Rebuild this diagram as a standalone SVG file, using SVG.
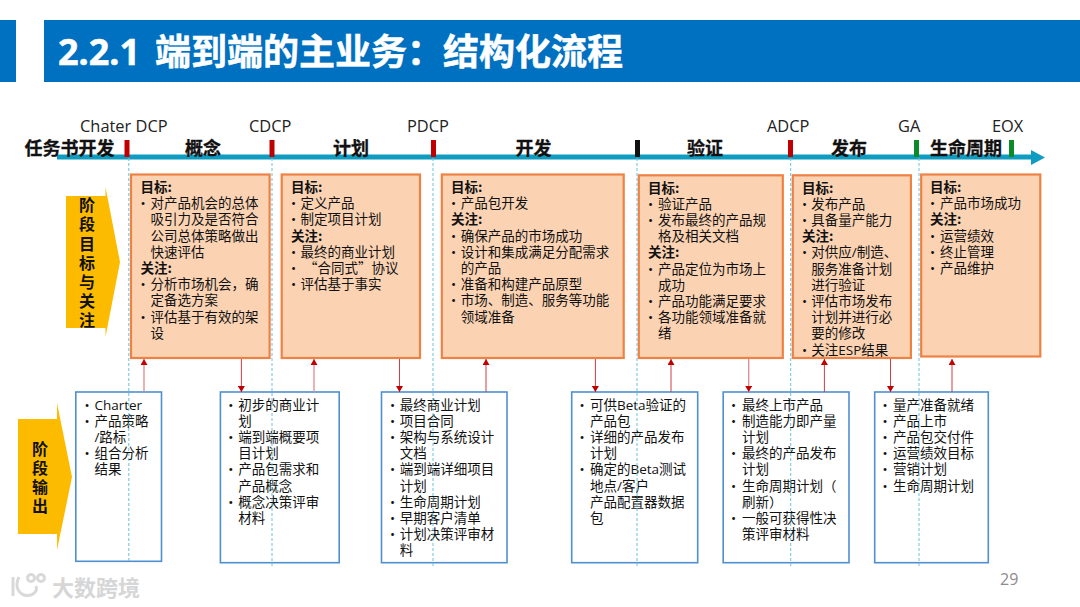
<svg xmlns="http://www.w3.org/2000/svg" width="1080" height="607" viewBox="0 0 1080 607">
<style>
text{font-family:"Open Sans","Noto Sans CJK SC",sans-serif;fill:#111}
.t{font-size:13.5px}
.h{font-size:13.5px;font-weight:700;font-family:"Noto Sans CJK SC",sans-serif}
.m{font-size:16.400px;fill:#222}
.p{font-size:18px;font-weight:700;font-family:"Noto Sans CJK SC",sans-serif;text-anchor:middle;stroke:#111;stroke-width:.3}
.v{font-size:16px;font-weight:700;font-family:"Noto Sans CJK SC",sans-serif;text-anchor:middle}
.o{fill:#fbd3b3;stroke:#ee8144;stroke-width:2.2}
.b{fill:none;stroke:#4f8fd0;stroke-width:1.6}
.d{stroke:#6cc0d8;stroke-width:1;stroke-dasharray:3 2;fill:none}
.c{stroke:#c8404a;stroke-width:1;fill:none}
.c2{stroke:#dd8a90;stroke-width:1.3;fill:none}
.ar{fill:#fdbb00}
.wm{fill:none;stroke:#d9d9d9;stroke-width:3}
</style>
<defs>
<marker id="ah" markerUnits="userSpaceOnUse" markerWidth="7" markerHeight="7" refX="6" refY="3.5" orient="auto"><path d="M0 0L6 3.5L0 7Z" fill="#c00000"/></marker>
</defs>
<g id="title">
<rect x="0" y="20" width="16" height="62" fill="#0070c0"/>
<rect x="44" y="20" width="1036" height="62" fill="#0070c0"/>
<text y="65" style="font-size:36px;font-weight:700;fill:#fff;stroke:#fff;stroke-width:.5;font-family:'Noto Sans','Noto Sans CJK SC',sans-serif"><tspan x="58">2.2.1</tspan><tspan x="155">端到端的主业务&#xFF1A;结构化流程</tspan></text>
</g>
<g id="timeline">
<rect x="57" y="154.500" width="975" height="5" fill="#0e9dc0"/>
<path d="M1031 150L1045 157.500L1031 165Z" fill="#0e9dc0"/>
<g fill="#c00000"><rect x="124.500" y="140" width="5" height="17"/><rect x="269.500" y="140" width="5" height="17"/><rect x="431" y="140" width="5" height="17"/><rect x="788" y="140" width="5" height="17"/></g>
<rect x="635" y="140" width="5" height="17" fill="#111"/>
<g fill="#0b8a2a"><rect x="914" y="140" width="5" height="17"/><rect x="1009" y="140" width="5" height="17"/></g>
<text class="m" x="80" y="131.500">Chater DCP</text>
<text class="m" x="249" y="131.500">CDCP</text>
<text class="m" x="407" y="131.500">PDCP</text>
<text class="m" x="767" y="131.500">ADCP</text>
<text class="m" x="898" y="131.500">GA</text>
<text class="m" x="992" y="131.500">EOX</text>
<text class="p" x="69.500" y="154.500">任务书开发</text>
<text class="p" x="203" y="154.500">概念</text>
<text class="p" x="351" y="154.500">计划</text>
<text class="p" x="533.500" y="154.500">开发</text>
<text class="p" x="705" y="154.500">验证</text>
<text class="p" x="849" y="154.500">发布</text>
<text class="p" x="966" y="154.500">生命周期</text>
</g>
<g id="stage-arrow-goals">
<path class="ar" d="M66 196H105.500V187L120 262L105.500 337V328H66Z"/>
<text class="v" x="87" y="211">阶</text><text class="v" x="87" y="230">段</text><text class="v" x="87" y="250">目</text><text class="v" x="87" y="269">标</text><text class="v" x="87" y="288">与</text><text class="v" x="87" y="307">关</text><text class="v" x="87" y="326">注</text>
</g>
<g id="stage-arrow-output">
<path class="ar" d="M18 419H57V403L72 477L57 550V534H18Z"/>
<text class="v" x="40" y="455">阶</text><text class="v" x="40" y="474">段</text><text class="v" x="40" y="493">输</text><text class="v" x="40" y="512">出</text>
</g>
<g id="goal-concept">
<rect class="o" x="131" y="174.500" width="138.600" height="183.500"/>
<text class="h" x="140.500" y="192">目标:</text>
<text class="t" y="208.200"><tspan x="140.500">•</tspan><tspan x="150.500">对产品机会的总体</tspan></text>
<text class="t" x="150.500" y="224.400">吸引力及是否符合</text>
<text class="t" x="150.500" y="240.600">公司总体策略做出</text>
<text class="t" x="150.500" y="256.800">快速评估</text>
<text class="h" x="140.500" y="273">关注:</text>
<text class="t" y="289.200"><tspan x="140.500">•</tspan><tspan x="150.500">分析市场机会&#xFF0C;确</tspan></text>
<text class="t" x="150.500" y="305.400">定备选方案</text>
<text class="t" y="321.600"><tspan x="140.500">•</tspan><tspan x="150.500">评估基于有效的架</tspan></text>
<text class="t" x="150.500" y="337.800">设</text>
</g>
<g id="goal-plan">
<rect class="o" x="281.700" y="174.500" width="138.300" height="183.500"/>
<text class="h" x="291" y="192">目标:</text>
<text class="t" y="208.200"><tspan x="291">•</tspan><tspan x="300.600">定义产品</tspan></text>
<text class="t" y="224.400"><tspan x="291">•</tspan><tspan x="300.600">制定项目计划</tspan></text>
<text class="h" x="291" y="240.600">关注:</text>
<text class="t" y="256.800"><tspan x="291">•</tspan><tspan x="300.600">最终的商业计划</tspan></text>
<text class="t" y="273"><tspan x="291">•</tspan><tspan x="304" style="font-family:'Noto Sans CJK SC',sans-serif">“合同式”协议</tspan></text>
<text class="t" y="289.200"><tspan x="291">•</tspan><tspan x="300.600">评估基于事实</tspan></text>
</g>
<g id="goal-develop">
<rect class="o" x="441.800" y="174.500" width="181.900" height="183.500"/>
<text class="h" x="451" y="192">目标:</text>
<text class="t" y="208.200"><tspan x="451">•</tspan><tspan x="460.700">产品包开发</tspan></text>
<text class="h" x="451" y="224.400">关注:</text>
<text class="t" y="240.600"><tspan x="451">•</tspan><tspan x="460.700">确保产品的市场成功</tspan></text>
<text class="t" y="256.800"><tspan x="451">•</tspan><tspan x="460.700">设计和集成满足分配需求</tspan></text>
<text class="t" x="460.700" y="273">的产品</text>
<text class="t" y="289.200"><tspan x="451">•</tspan><tspan x="460.700">准备和构建产品原型</tspan></text>
<text class="t" y="305.400"><tspan x="451">•</tspan><tspan x="460.700">市场、制造、服务等功能</tspan></text>
<text class="t" x="460.700" y="321.600">领域准备</text>
</g>
<g id="goal-verify">
<rect class="o" x="638.800" y="175.300" width="144" height="182.700"/>
<text class="h" x="648" y="192.500">目标:</text>
<text class="t" y="208.700"><tspan x="648">•</tspan><tspan x="658">验证产品</tspan></text>
<text class="t" y="224.900"><tspan x="648">•</tspan><tspan x="658">发布最终的产品规</tspan></text>
<text class="t" x="658" y="241.100">格及相关文档</text>
<text class="h" x="648" y="257.300">关注:</text>
<text class="t" y="273.500"><tspan x="648">•</tspan><tspan x="658">产品定位为市场上</tspan></text>
<text class="t" x="658" y="289.700">成功</text>
<text class="t" y="305.900"><tspan x="648">•</tspan><tspan x="658">产品功能满足要求</tspan></text>
<text class="t" y="322.100"><tspan x="648">•</tspan><tspan x="658">各功能领域准备就</tspan></text>
<text class="t" x="658" y="338.300">绪</text>
</g>
<g id="goal-release">
<rect class="o" x="792.800" y="175.300" width="118.100" height="182.700"/>
<text class="h" x="802" y="192.500">目标:</text>
<text class="t" y="208.700"><tspan x="802">•</tspan><tspan x="811.300">发布产品</tspan></text>
<text class="t" y="224.900"><tspan x="802">•</tspan><tspan x="811.300">具备量产能力</tspan></text>
<text class="h" x="802" y="241.100">关注:</text>
<text class="t" y="257.300"><tspan x="802">•</tspan><tspan x="811.300">对供应/制造、</tspan></text>
<text class="t" x="811.300" y="273.500">服务准备计划</text>
<text class="t" x="811.300" y="289.700">进行验证</text>
<text class="t" y="305.900"><tspan x="802">•</tspan><tspan x="811.300">评估市场发布</tspan></text>
<text class="t" x="811.300" y="322.100">计划并进行必</text>
<text class="t" x="811.300" y="338.300">要的修改</text>
<text class="t" y="354.500"><tspan x="802">•</tspan><tspan x="811.300">关注ESP结果</tspan></text>
</g>
<g id="goal-lifecycle">
<rect class="o" x="921.200" y="174.500" width="119.100" height="182"/>
<text class="h" x="930" y="192">目标:</text>
<text class="t" y="208.200"><tspan x="930">•</tspan><tspan x="940">产品市场成功</tspan></text>
<text class="h" x="930" y="224.400">关注:</text>
<text class="t" y="240.600"><tspan x="930">•</tspan><tspan x="940">运营绩效</tspan></text>
<text class="t" y="256.800"><tspan x="930">•</tspan><tspan x="940">终止管理</tspan></text>
<text class="t" y="273"><tspan x="930">•</tspan><tspan x="940">产品维护</tspan></text>
</g>
<g id="output-charter">
<rect class="b" x="75.800" y="392" width="85.700" height="169.300"/>
<text class="t" y="409.500"><tspan x="84.500">•</tspan><tspan x="94.400">Charter</tspan></text>
<text class="t" y="425.700"><tspan x="84.500">•</tspan><tspan x="94.400">产品策略</tspan></text>
<text class="t" x="94.400" y="441.900">/路标</text>
<text class="t" y="458.100"><tspan x="84.500">•</tspan><tspan x="94.400">组合分析</tspan></text>
<text class="t" x="94.400" y="474.300">结果</text>
</g>
<g id="output-concept">
<rect class="b" x="220.400" y="392" width="118.800" height="170.700"/>
<text class="t" y="409.500"><tspan x="228.200">•</tspan><tspan x="238.300">初步的商业计</tspan></text>
<text class="t" x="238.300" y="425.700">划</text>
<text class="t" y="441.900"><tspan x="228.200">•</tspan><tspan x="238.300">端到端概要项</tspan></text>
<text class="t" x="238.300" y="458.100">目计划</text>
<text class="t" y="474.300"><tspan x="228.200">•</tspan><tspan x="238.300">产品包需求和</tspan></text>
<text class="t" x="238.300" y="490.500">产品概念</text>
<text class="t" y="506.700"><tspan x="228.200">•</tspan><tspan x="238.300">概念决策评审</tspan></text>
<text class="t" x="238.300" y="522.900">材料</text>
</g>
<g id="output-plan">
<rect class="b" x="381.500" y="392" width="125.500" height="170.700"/>
<text class="t" y="409.500"><tspan x="390.100">•</tspan><tspan x="399.800">最终商业计划</tspan></text>
<text class="t" y="425.700"><tspan x="390.100">•</tspan><tspan x="399.800">项目合同</tspan></text>
<text class="t" y="441.900"><tspan x="390.100">•</tspan><tspan x="399.800">架构与系统设计</tspan></text>
<text class="t" x="399.800" y="458.100">文档</text>
<text class="t" y="474.300"><tspan x="390.100">•</tspan><tspan x="399.800">端到端详细项目</tspan></text>
<text class="t" x="399.800" y="490.500">计划</text>
<text class="t" y="506.700"><tspan x="390.100">•</tspan><tspan x="399.800">生命周期计划</tspan></text>
<text class="t" y="522.900"><tspan x="390.100">•</tspan><tspan x="399.800">早期客户清单</tspan></text>
<text class="t" y="539.100"><tspan x="390.100">•</tspan><tspan x="399.800">计划决策评审材</tspan></text>
<text class="t" x="399.800" y="555.300">料</text>
</g>
<g id="output-develop">
<rect class="b" x="571.700" y="392" width="126" height="170.700"/>
<text class="t" y="409.500"><tspan x="579.500">•</tspan><tspan x="590">可供Beta验证的</tspan></text>
<text class="t" x="590" y="425.700">产品包</text>
<text class="t" y="441.900"><tspan x="579.500">•</tspan><tspan x="590">详细的产品发布</tspan></text>
<text class="t" x="590" y="458.100">计划</text>
<text class="t" y="474.300"><tspan x="579.500">•</tspan><tspan x="590">确定的Beta测试</tspan></text>
<text class="t" x="590" y="490.500">地点/客户</text>
<text class="t" x="590" y="506.700">产品配置器数据</text>
<text class="t" x="590" y="522.900">包</text>
</g>
<g id="output-verify">
<rect class="b" x="723.200" y="392" width="125.800" height="170.700"/>
<text class="t" y="409.500"><tspan x="731">•</tspan><tspan x="742">最终上市产品</tspan></text>
<text class="t" y="425.700"><tspan x="731">•</tspan><tspan x="742">制造能力即产量</tspan></text>
<text class="t" x="742" y="441.900">计划</text>
<text class="t" y="458.100"><tspan x="731">•</tspan><tspan x="742">最终的产品发布</tspan></text>
<text class="t" x="742" y="474.300">计划</text>
<text class="t" y="490.500"><tspan x="731">•</tspan><tspan x="742">生命周期计划&#xFF08;</tspan></text>
<text class="t" x="742" y="506.700">刷新&#xFF09;</text>
<text class="t" y="522.900"><tspan x="731">•</tspan><tspan x="742">一般可获得性决</tspan></text>
<text class="t" x="742" y="539.100">策评审材料</text>
</g>
<g id="output-release">
<rect class="b" x="874.700" y="392" width="113.600" height="170.700"/>
<text class="t" y="409.500"><tspan x="882.500">•</tspan><tspan x="893">量产准备就绪</tspan></text>
<text class="t" y="425.700"><tspan x="882.500">•</tspan><tspan x="893">产品上市</tspan></text>
<text class="t" y="441.900"><tspan x="882.500">•</tspan><tspan x="893">产品包交付件</tspan></text>
<text class="t" y="458.100"><tspan x="882.500">•</tspan><tspan x="893">运营绩效目标</tspan></text>
<text class="t" y="474.300"><tspan x="882.500">•</tspan><tspan x="893">营销计划</tspan></text>
<text class="t" y="490.500"><tspan x="882.500">•</tspan><tspan x="893">生命周期计划</tspan></text>
</g>
<g id="connectors">
<path class="d" d="M128.800 158V561"/><path class="d" d="M272 158V566"/><path class="d" d="M433 158V566"/><path class="d" d="M637 158V566"/><path class="d" d="M790.700 158V566"/><path class="d" d="M919 158V566"/>
<path class="c2" marker-end="url(#ah)" d="M144 392V359"/>
<path class="c" marker-end="url(#ah)" d="M241.400 359V392"/>
<path class="c2" marker-end="url(#ah)" d="M314 392V359"/>
<path class="c" marker-end="url(#ah)" d="M399.500 359V392"/>
<path class="c" marker-end="url(#ah)" d="M486 392V359"/>
<path class="c" marker-end="url(#ah)" d="M595.400 359V392"/>
<path class="c" marker-end="url(#ah)" d="M671 392V359"/>
<path class="c2" marker-end="url(#ah)" d="M748.700 359V392"/>
<path class="c" marker-end="url(#ah)" d="M824.400 392V359"/>
<path class="c" marker-end="url(#ah)" d="M890.500 359V392"/>
<path class="c" marker-end="url(#ah)" d="M952 392V359"/>
</g>
<g id="page-number"><text x="1000" y="585" style="font-size:16px;fill:#8c8c8c">29</text></g>
<g id="watermark">
<path class="wm" d="M13 577V596M19 577C15 585 17 592 24 595C32 597 38 592 36 586"/>
<circle class="wm" cx="31" cy="578" r="3.500" stroke-width="2"/><circle class="wm" cx="41" cy="578" r="3.500" stroke-width="2"/>
<text x="52" y="596" style="font-size:22px;font-weight:700;fill:#d6d6d6;font-family:'Noto Sans CJK SC',sans-serif">大数跨境</text>
</g>
</svg>
